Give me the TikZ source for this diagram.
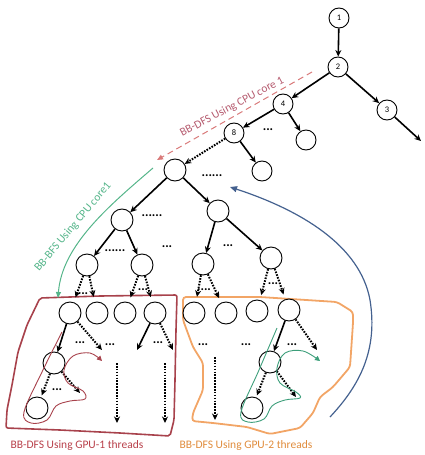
\documentclass[tikz,border=0pt]{standalone}
\usepackage{fontspec}
\setmainfont{Carlito}
\usetikzlibrary{arrows.meta}
\definecolor{boxred}{HTML}{A8424C}
\definecolor{txtred}{HTML}{B8404A}
\definecolor{boxorange}{HTML}{F2A566}
\definecolor{txtorange}{HTML}{E08C3C}
\definecolor{dashred}{HTML}{D97A7A}
\definecolor{cputxt}{HTML}{B55A6E}
\definecolor{bfsgreen}{HTML}{55B58A}
\definecolor{thrgreen}{HTML}{3C9E7A}
\definecolor{bluecurve}{HTML}{44618F}
\begin{document}
\begin{tikzpicture}[x=1pt,y=-1pt,
  circ/.style={circle,draw=black,line width=0.9pt,fill=white,minimum size=20pt,inner sep=0pt,font=\fontsize{8.5}{9}\selectfont},
  bigc/.style={circ,minimum size=22pt},
  sol/.style={line width=1.6pt,-{Stealth[length=6.5pt,width=6pt]}},
  dotar/.style={line width=2pt,dash pattern=on 1.6pt off 1.3pt,-{Stealth[length=6.5pt,width=6pt]}},
  dts/.style={font=\bfseries\fontsize{13}{13}\selectfont,inner sep=0pt},
  lab/.style={font=\fontsize{11.5}{12}\selectfont,inner sep=0pt},
  thin/.style={line width=0.9pt,-{Triangle[length=5pt,width=5pt]}}
]
\useasboundingbox (0,0) rectangle (424,455);

% regions
\draw[boxred,line width=1.6pt,rounded corners=2pt] (40,298) -- (100,296) -- (177,295) -- (176,330) -- (175,380) -- (174,420) -- (170,436) -- (120,433) -- (60,430) -- (6,428) -- (7,410) -- (12,385) -- (18,352) -- (27,325) -- cycle;
\draw[boxorange,line width=1.8pt,rounded corners=3pt] (183,297) -- (183,320) -- (193,347) -- (203,363) -- (203,390) -- (193,413) -- (192,421) -- (213,423) -- (247,427) -- (270,434) -- (300,428) -- (313,413) -- (320,397) -- (333,387) -- (350,367) -- (353,323) -- (353,312) -- (337,302) -- (260,297) -- cycle;

% tree nodes
\node[circ] (n1) at (339,18) {1};
\node[circ] (n2) at (338,67) {2};
\node[circ] (n3) at (387,110) {3};
\node[circ] (n4) at (283,104) {4};
\node[circ] (n8) at (234,133) {8};
\node[circ] (n4r) at (306,140) {};
\node[circ] (n8r) at (262,171) {};
\node[bigc] (nA) at (175,170) {};
\node[bigc] (nB) at (122,220) {};
\node[bigc] (nC) at (218,211) {};
\node[bigc] (nD) at (87,265) {};
\node[bigc] (nE) at (142,265) {};
\node[bigc] (nF) at (203,264) {};
\node[bigc] (nG) at (271,258) {};
\node[bigc] (r1) at (70,313) {};
\node[bigc] (r2) at (97,313) {};
\node[bigc] (r3) at (125,313) {};
\node[bigc] (r4) at (155,313) {};
\node[bigc] (r5) at (194,313) {};
\node[bigc] (r6) at (226,313) {};
\node[bigc] (r7) at (257,311) {};
\node[bigc] (r8) at (289,310) {};
\node[bigc] (s1) at (54,363) {};
\node[bigc] (s2) at (37,408) {};
\node[bigc] (t1) at (270,362) {};
\node[bigc] (t2) at (252,408) {};

% free ends
\coordinate (e3) at (421,141);
\coordinate (c1) at (102,350);
\coordinate (c2) at (137,350);
\coordinate (c3) at (173,350);
\coordinate (c4) at (117,363);
\coordinate (c5) at (117,423);
\coordinate (c6) at (165,363);
\coordinate (c7) at (165,423);
\coordinate (c9) at (80,393);
\coordinate (c10) at (317,350);
\coordinate (c11) at (296,397);
\coordinate (c12) at (215,357);
\coordinate (c13) at (215,420);

% solid edges
\draw[sol] (n1) -- (n2);
\draw[sol] (n2) -- (n4);
\draw[sol] (n2) -- (n3);
\draw[sol] (n3) -- (e3);
\draw[sol] (n4) -- (n8);
\draw[sol] (n4) -- (n4r);
\draw[sol] (n8) -- (n8r);
\draw[sol] (nA) -- (nB);
\draw[sol] (nA) -- (nC);
\draw[sol] (nB) -- (nD);
\draw[sol] (nB) -- (nE);
\draw[sol] (nC) -- (nF);
\draw[sol] (nC) -- (nG);
\draw[sol] (r1) -- (s1);
\draw[sol] (r4) -- (c2);
\draw[sol] (r8) -- (t1);

% dotted edges
\draw[dotar] (n8) -- (nA);
\draw[dotar,shorten >=5pt] (nD) -- (r1);
\draw[dotar,shorten >=5pt] (nD) -- (r2);
\draw[dotar,shorten >=5pt] (nE) -- (r3);
\draw[dotar,shorten >=5pt] (nE) -- (r4);
\draw[dotar,shorten >=5pt] (nF) -- (r5);
\draw[dotar,shorten >=5pt] (nF) -- (r6);
\draw[dotar,shorten >=5pt] (nG) -- (r7);
\draw[dotar,shorten >=5pt] (nG) -- (r8);
\draw[dotar] (r1) -- (c1);
\draw[dotar] (r4) -- (c3);
\draw[dotar] (c4) -- (c5);
\draw[dotar] (c6) -- (c7);
\draw[dotar,shorten >=2pt] (s1) -- (s2);
\draw[dotar] (s1) -- (c9);
\draw[dotar] (r8) -- (c10);
\draw[dotar,shorten >=2pt] (t1) -- (t2);
\draw[dotar] (t1) -- (c11);
\draw[dotar] (c12) -- (c13);

% ellipsis marks
\node[dts] (d1) at (268,130) {...};
\node[dts] (d2) at (212,176) {......};
\node[dts] (d3) at (152,216) {......};
\node[dts] (d4) at (115,251) {......};
\node[dts] (d5) at (167,247) {...};
\node[dts] (d6) at (228,246) {...};
\node[dts] (d7) at (83,294) {...};
\node[dts] (d8) at (143,290) {...};
\node[dts] (d9) at (204,290) {....};
\node[dts] (d10) at (273,284) {...};
\node[dts] (d11) at (80,343) {...};
\node[dts] (d12) at (110,345) {...};
\node[dts] (d13) at (158,343) {...};
\node[dts] (d14) at (57,390) {...};
\node[dts] (d15) at (203,345) {...};
\node[dts] (d16) at (246,345) {...};
\node[dts] (d17) at (292,345) {...};

% thread curves
\draw[boxred,thin] plot[smooth,tension=0.6] coordinates {(62,332) (42,372) (24,412) (31,423) (47,420) (56,406) (70,401) (85,399) (83,391) (68,383) (64,370) (73,356) (90,353) (102,361)};
\draw[thrgreen,thin] plot[smooth,tension=0.6] coordinates {(277,328) (259,370) (241,412) (248,422) (264,419) (272,406) (285,400) (300,398) (296,392) (280,383) (277,368) (285,353) (303,351) (320,361)};

% CPU DFS dashed arrow
\coordinate (ra) at (312,72);
\coordinate (rb) at (157,160);
\draw[dashred,line width=1pt,dash pattern=on 6pt off 4pt,-{Triangle[length=6pt,width=5pt]}] (ra) -- (rb);
\node[lab,text=cputxt,rotate=28] (lcpu) at (232,107) {BB-DFS Using CPU core 1};

% CPU BFS green arrow
\coordinate (ga) at (153,168);
\coordinate (gb) at (58,298);
\draw[bfsgreen,line width=1pt,-{Triangle[length=6pt,width=5pt]}] (ga) .. controls (110,205) and (62,245) .. (gb);
\node[lab,text=bfsgreen,rotate=50] (lbfs) at (73,227) {BB-BFS Using CPU core1};

% blue arrow
\coordinate (ba) at (330,417);
\coordinate (bm) at (370,300);
\coordinate (bb) at (230,187);
\draw[bluecurve,line width=1.2pt,-{Triangle[length=7pt,width=6pt]}] (ba) .. controls (360,385) and (378,350) .. (bm) .. controls (360,245) and (300,210) .. (bb);

% captions
\node[lab,text=txtred] (cap1) at (77,445) {BB-DFS Using GPU-1 threads};
\node[lab,text=txtorange] (cap2) at (246,445) {BB-DFS Using GPU-2 threads};
\end{tikzpicture}
\end{document}
